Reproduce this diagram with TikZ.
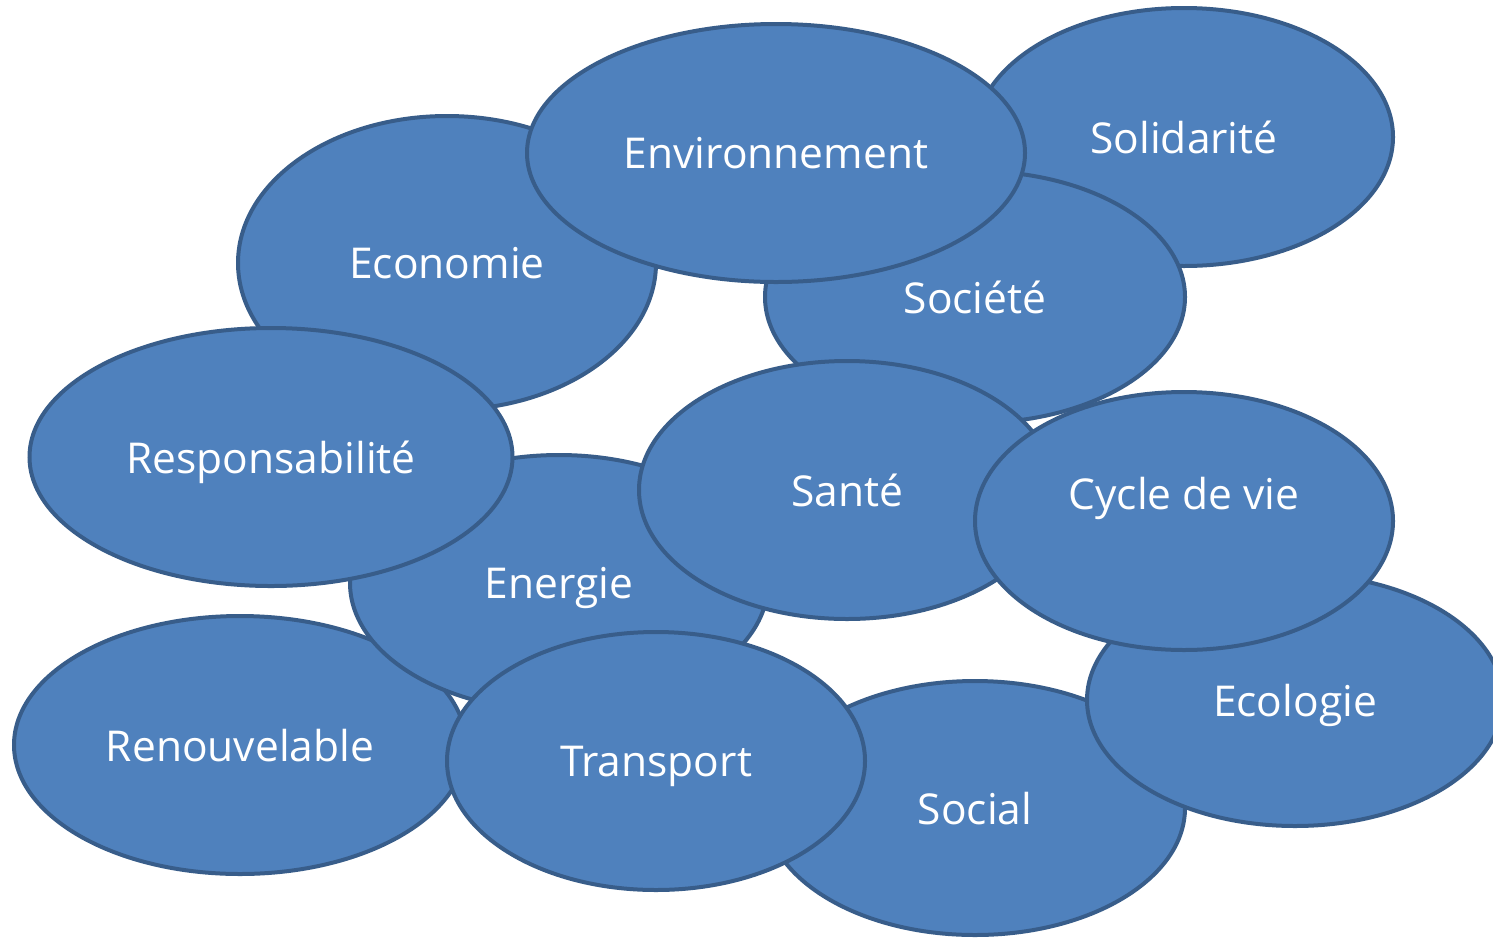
\documentclass[tikz,border=0pt]{standalone}
\usepackage{fontspec}
\setmainfont{Open Sans}
\usetikzlibrary{shapes.geometric}
\definecolor{bubblefill}{RGB}{79,129,189}
\definecolor{bubbleline}{RGB}{56,93,138}

\begin{document}
\begin{tikzpicture}[x=1pt,y=-1pt,
		bubble/.style={ellipse,draw=bubbleline,fill=bubblefill,line width=4pt,text=white,
			font=\fontsize{42.5}{50}\selectfont,inner sep=0pt,text depth=0pt,
			minimum width=418pt,minimum height=258pt}
		]
		\useasboundingbox (0,0) rectangle (1493,938);
		% back row first, front row last
		\node (solidarite) [bubble] at (1184,137) {Solidarit\'e};
		\node (societe) [bubble,minimum width=420pt,minimum height=252pt] at (975,297) {Soci\'et\'e};
		\node (economie) [bubble,minimum height=294pt] at (447,263) {Economie};
		\node (environnement) [bubble,minimum width=498pt] at (776,153) {Environnement};
		\node (renouvelable) [bubble,minimum width=452pt] at (240,745) {Renouvelable};
		\node (energie) [bubble,minimum height=256pt] at (559,583) {Energie};
		\node (responsabilite) [bubble,minimum width=483pt] at (271,457) {Responsabilit\'e};
		\node (sante) [bubble,minimum width=416pt] at (847,490) {Sant\'e};
		\node (social) [bubble,minimum width=420pt,minimum height=254pt] at (975,808) {Social};
		\node (ecologie) [bubble,minimum width=416pt,minimum height=252pt] at (1295,700) {Ecologie};
		\node (cycle) [bubble] at (1184,521) {\raisebox{55pt}{Cycle de vie}};
		\node (transport) [bubble] at (656,761) {Transport};
\end{tikzpicture}
\end{document}
